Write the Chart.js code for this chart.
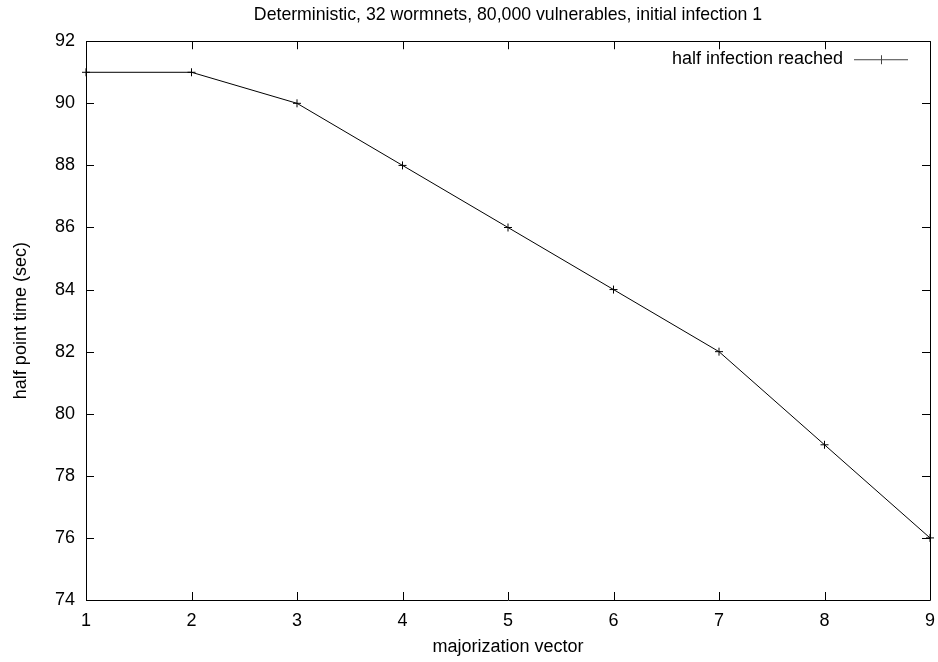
<!DOCTYPE html>
<html>
<head>
<meta charset="utf-8">
<script src="https://cdn.jsdelivr.net/npm/chart.js@4/dist/chart.umd.min.js"></script>
<style>
html,body{margin:0;padding:0;background:#fff;}
#wrap{width:938px;height:662px;}
</style>
</head>
<body>
<div id="wrap"><canvas id="c" width="938" height="662"></canvas></div>
<script>
const categories = [1, 2, 3, 4, 5, 6, 7, 8, 9];
const halfInfection = [91, 91, 90, 88, 86, 84, 82, 79, 76];
const xTicks = [1, 2, 3, 4, 5, 6, 7, 8, 9];
const yTicks = [74, 76, 78, 80, 82, 84, 86, 88, 90, 92];
const seriesLabel = 'half infection reached';
const chartTitle = 'Deterministic, 32 wormnets, 80,000 vulnerables, initial infection 1';
const xTitle = 'majorization vector';
const yTitle = 'half point time (sec)';

const FONT = "'Liberation Sans', Arial, Helvetica, sans-serif";
const FS = 18;
const TFS = 17.7;

const framePlugin = {
  id: 'frame',
  afterDatasetsDraw(chart) {
    const {ctx, chartArea: a, scales} = chart;
    const xs = scales.x, ys = scales.y;
    const T = 8;
    ctx.save();
    ctx.strokeStyle = '#000';
    ctx.lineWidth = 1;
    ctx.beginPath();
    ctx.rect(Math.round(a.left) + 0.5, Math.round(a.top) + 0.5, Math.round(a.right - a.left), Math.round(a.bottom - a.top));
    ctx.stroke();
    ctx.beginPath();
    xTicks.forEach(v => {
      const px = Math.round(xs.getPixelForValue(v)) + 0.5;
      ctx.moveTo(px, a.bottom); ctx.lineTo(px, a.bottom - T);
      ctx.moveTo(px, a.top); ctx.lineTo(px, a.top + T);
    });
    yTicks.forEach(v => {
      const py = Math.round(ys.getPixelForValue(v)) + 0.5;
      ctx.moveTo(a.left, py); ctx.lineTo(a.left + T, py);
      ctx.moveTo(a.right, py); ctx.lineTo(a.right - T, py);
    });
    ctx.stroke();
    ctx.restore();
  },
  afterDraw(chart) {
    const {ctx, chartArea: a} = chart;
    const ds = chart.data.datasets[0];
    const y = a.top + 18;
    const x1 = a.right - 76, x2 = a.right - 22;
    ctx.save();
    ctx.font = FS + 'px ' + FONT;
    ctx.fillStyle = '#000';
    ctx.textAlign = 'right';
    ctx.textBaseline = 'middle';
    ctx.fillText(ds.label, x1 - 11, y);
    ctx.strokeStyle = '#444';
    ctx.lineWidth = 1;
    ctx.beginPath();
    ctx.moveTo(x1, y + 0.5); ctx.lineTo(x2, y + 0.5);
    const mx = Math.round((x1 + x2) / 2) + 0.5;
    ctx.moveTo(mx, y - 4); ctx.lineTo(mx, y + 5);
    ctx.stroke();
    ctx.restore();
  }
};

Chart.defaults.font.family = FONT;
Chart.defaults.font.size = FS;
Chart.defaults.color = '#000';

new Chart(document.getElementById('c'), {
  type: 'line',
  data: {
    labels: categories,
    datasets: [{
      label: seriesLabel,
      data: categories.map((c, i) => ({x: c, y: halfInfection[i]})),
      borderColor: '#000',
      backgroundColor: '#000',
      borderWidth: 1,
      pointStyle: 'cross',
      pointRadius: 4,
      pointBorderWidth: 1,
      pointBorderColor: '#000',
      tension: 0,
      fill: false,
      clip: false
    }]
  },
  options: {
    responsive: false,
    animation: false,
    events: [],
    layout: {padding: {left: 0, right: 8, top: 0, bottom: 0}},
    plugins: {
      legend: {display: false},
      tooltip: {enabled: false},
      title: {
        display: true,
        fullSize: false,
        text: chartTitle,
        font: {size: TFS, weight: 'normal', family: FONT},
        color: '#000',
        padding: {top: 4, bottom: 16}
      }
    },
    scales: {
      x: {
        type: 'linear',
        min: 1, max: 9,
        afterBuildTicks(s) { s.ticks = xTicks.map(v => ({value: v})); },
        afterFit(s) { s.height = 62; s.paddingLeft = 0; s.paddingRight = 0; },
        grid: {display: false, drawTicks: false},
        border: {display: false},
        ticks: {padding: 10, maxRotation: 0, autoSkip: false, font: {size: FS}},
        title: {display: true, text: xTitle, font: {size: FS}, padding: {top: 0, bottom: 4}}
      },
      y: {
        type: 'linear',
        min: 74, max: 92,
        afterBuildTicks(s) { s.ticks = yTicks.map(v => ({value: v})); },
        afterFit(s) { s.width = 86; s.paddingTop = 0; s.paddingBottom = 0; },
        grid: {display: false, drawTicks: false},
        border: {display: false},
        ticks: {padding: 11, autoSkip: false, font: {size: FS}},
        title: {display: true, text: yTitle, font: {size: FS}, padding: {top: 10, bottom: 0}}
      }
    }
  },
  plugins: [framePlugin]
});
</script>
</body>
</html>
